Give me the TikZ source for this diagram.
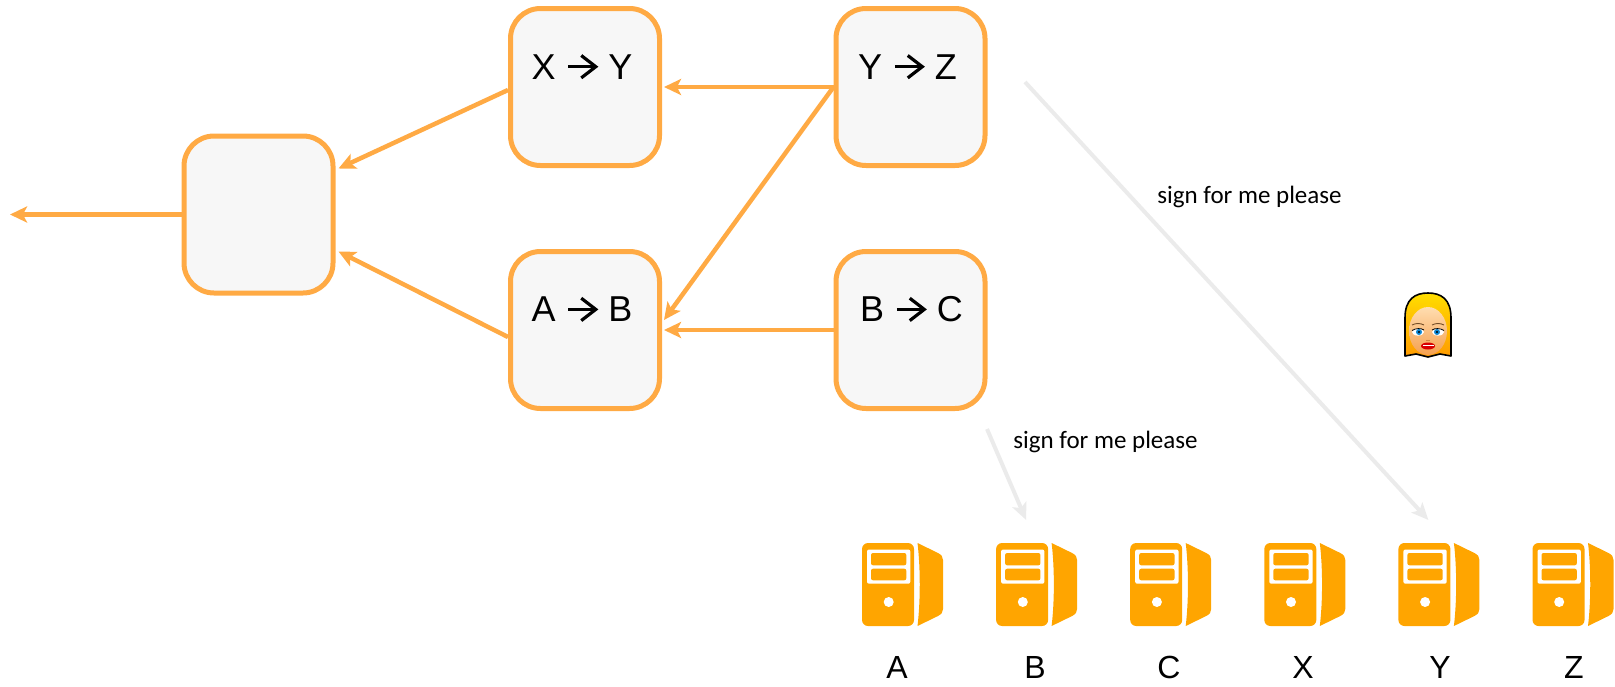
\documentclass[tikz,border=0pt]{standalone}
\usepackage{fontspec}
\setmainfont{Liberation Sans}
\newfontfamily\notefont{Carlito}
\usetikzlibrary{arrows.meta,shapes.geometric}

\definecolor{edgeorange}{HTML}{FFAA44}
\definecolor{boxfill}{HTML}{F7F7F7}
\definecolor{srvorange}{HTML}{FFA500}
\definecolor{reqgray}{HTML}{EBEBEB}
\definecolor{hairtop}{HTML}{FFE000}
\definecolor{hairbot}{HTML}{FF9A00}
\definecolor{skintop}{HTML}{FFDDB0}
\definecolor{skinbot}{HTML}{F5A050}

% bold chevron arrow used inside the step labels
\newcommand\maparrow{\kern1pt\tikz[baseline=0pt, x=1pt, y=1pt]{%
  \draw[line width=3.2pt] (0,12.3) -- (26.5,12.3);
  \draw[line width=3.2pt, miter limit=10] (13,23.5) -- (27.5,12.3) -- (13,1.1);}\kern1pt}

% outline of the requester's head
\newcommand\headoutline{(1405,356) -- (1405,318)
    .. controls (1405,299) and (1415,293) .. (1428,293)
    .. controls (1441,293) and (1451,299) .. (1451,318)
    -- (1451,356) -- (1440,354) -- (1428,357) -- (1416,354) -- cycle}

\tikzset{
  stepbox/.style={draw=edgeorange, fill=boxfill, line width=5pt,
    rounded corners=30pt, minimum width=149pt, minimum height=157pt,
    inner sep=0pt},
  boxtext/.style={anchor=base, font=\fontsize{36}{40}\selectfont, inner sep=0pt},
  flow/.style={draw=edgeorange, line width=4.5pt,
    -{Stealth[length=17pt,width=16pt,inset=4pt]}},
  request/.style={draw=reqgray, line width=4pt,
    -{Stealth[length=17pt,width=15pt,inset=4pt]}},
  note/.style={anchor=base, font=\notefont\fontsize{25}{28}\selectfont, inner sep=0pt},
  srvlabel/.style={anchor=base, font=\fontsize{32}{36}\selectfont, inner sep=0pt},
  server/.pic={
    % front panel
    \fill[srvorange, rounded corners=6pt] (0,0) rectangle (52,83);
    % side panel
    \fill[srvorange] (55.5,0) .. controls (58.5,25) and (58.5,58) .. (55.5,83)
      -- (76,73) .. controls (79.5,71) and (81,69.5) .. (81,66)
      -- (81,17) .. controls (81,13.5) and (79.5,12) .. (76,10) -- cycle;
    % drive bays and power button
    \fill[white, rounded corners=2pt] (5,6.5) rectangle (48.3,40.7);
    \fill[srvorange, rounded corners=2pt] (9,10) rectangle (44.3,22.3);
    \fill[srvorange, rounded corners=2pt] (9,25.7) rectangle (44.3,37.3);
    \fill[white] (26.7,59) circle (5pt);
    \coordinate (-req) at (30,-23);
  }
}

\begin{document}
\begin{tikzpicture}[x=1pt, y=-1pt]
\useasboundingbox (0,0) rectangle (1615,686);

% transformation steps
\node[stepbox] (xy) at (585,87) {};
\node[stepbox] (yz) at (910.5,87) {};
\node[stepbox] (ab) at (585,330) {};
\node[stepbox] (bc) at (910.5,330) {};
\node[stepbox] (merge) at (258.5,214.5) {};
\coordinate (out) at (10,214.5);

\node[boxtext] (xyt) at ([xshift=-3pt,yshift=8pt]xy.center) {X \maparrow{} Y};
\node[boxtext] (yzt) at ([xshift=-3pt,yshift=8pt]yz.center) {Y \maparrow{} Z};
\node[boxtext] (abt) at ([xshift=-3pt,yshift=8.3pt]ab.center) {A \maparrow{} B};
\node[boxtext] (bct) at ([xshift=1pt,yshift=8.3pt]bc.center) {B \maparrow{} C};

% data flow between the steps
\draw[flow] (yz.west) -- ([xshift=2pt]xy.east);
\draw[flow] (bc.west) -- ([xshift=2pt]ab.east);
\draw[flow] (yz.west) -- ([xshift=2pt,yshift=10pt]ab.east);
\draw[flow] ([yshift=-3pt]xy.west) -- ([xshift=3pt,yshift=46pt]merge.east);
\draw[flow] ([yshift=-7pt]ab.west) -- ([xshift=3pt,yshift=-37pt]merge.east);
\draw[flow] (merge.west) -- (out);

% servers
\foreach \n [count=\i from 0] in {A,B,C,X,Y,Z} {
  \pic (srv\n) at ({862+134.1*\i},543) {server};
}
\node[srvlabel] (lblA) at (897,678) {A};
\node[srvlabel] (lblB) at (1035,678) {B};
\node[srvlabel] (lblC) at (1169,678) {C};
\node[srvlabel] (lblX) at (1303,678) {X};
\node[srvlabel] (lblY) at (1440,678) {Y};
\node[srvlabel] (lblZ) at (1574,678) {Z};

% signing requests
\coordinate (reqBC) at (987,429);
\coordinate (reqYZ) at (1025,82);
\draw[request] (reqBC) -- (srvB-req);
\draw[request] (reqYZ) -- (srvY-req);
\node[note] (noteB) at (1105.5,448) {sign for me please};
\node[note] (noteY) at (1249.5,203) {sign for me please};

% the requester
\shade[top color=hairtop, bottom color=hairbot] \headoutline;
\begin{scope}
  \clip \headoutline;
  \shade[top color=skintop, bottom color=skinbot]
    (1428,331) ellipse [x radius=19, y radius=24];
  \shade[top color=hairtop, bottom color=hairbot!60!hairtop]
    (1403,292) -- (1453,292) -- (1453,326) -- (1448,326)
    .. controls (1446,313) and (1437,307) .. (1428,303)
    .. controls (1419,307) and (1410,313) .. (1408,326) -- (1403,326) -- cycle;
\end{scope}
\draw[black, line width=1.6pt, line join=round] \headoutline;
% eyebrows
\draw[brown!60!black, line width=0.9pt] (1412,325) .. controls (1416,323) and (1420,323) .. (1424,325);
\draw[brown!60!black, line width=0.9pt] (1444,325) .. controls (1440,323) and (1436,323) .. (1432,325);
% eyes
\fill[white] (1418,332) ellipse [x radius=6, y radius=3.6];
\fill[white] (1438,332) ellipse [x radius=6, y radius=3.6];
\fill[cyan!70!blue] (1419,332) circle (3pt);
\fill[cyan!70!blue] (1437,332) circle (3pt);
\fill[black] (1419,332) circle (1.2pt);
\fill[black] (1437,332) circle (1.2pt);
\draw[black, line width=0.8pt] (1412,330.5) .. controls (1416,328) and (1421,328) .. (1424,330);
\draw[black, line width=0.8pt] (1444,330.5) .. controls (1440,328) and (1435,328) .. (1432,330);
% nose and mouth
\draw[brown!70!skinbot, line width=0.7pt] (1426,340) -- (1430,340);
\fill[red!85!black] (1428,346) ellipse [x radius=7, y radius=3.5];
\fill[white] (1422.5,344.8) rectangle (1433.5,346.3);
\end{tikzpicture}
\end{document}
